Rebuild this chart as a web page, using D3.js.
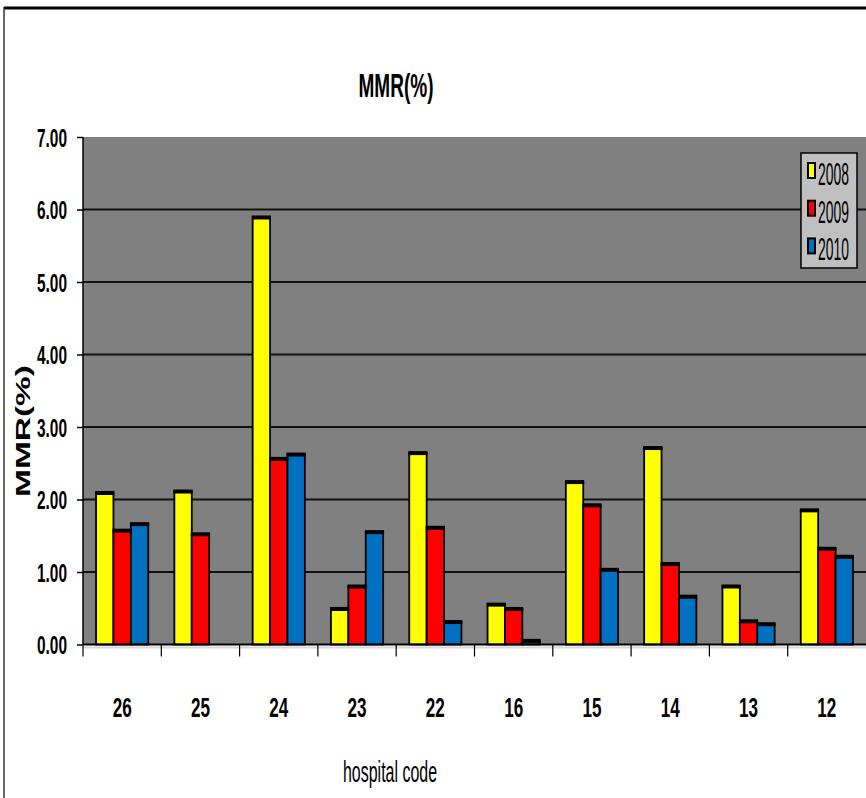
<!DOCTYPE html>
<html>
<head>
<meta charset="utf-8">
<script src="https://cdn.jsdelivr.net/npm/d3@7"></script>
<style>
  html, body { margin: 0; padding: 0; background: #fff; }
  svg { display: block; }
  text { font-family: "Liberation Sans", Arial, sans-serif; fill: #000; }
</style>
</head>
<body>
<svg id="chart" width="866" height="798"></svg>
<script>
// Hospital codes along the x axis
const categories = ["26", "25", "24", "23", "22", "16", "15", "14", "13", "12"];
// Series names (years) and MMR values in percent
const seriesNames = ["2008", "2009", "2010"];
const values2008 = [2.09, 2.11, 5.89, 0.49, 2.64, 0.55, 2.24, 2.71, 0.80, 1.85];
const values2009 = [1.57, 1.52, 2.56, 0.80, 1.61, 0.49, 1.92, 1.11, 0.32, 1.32];
const values2010 = [1.66, null, 2.62, 1.55, 0.31, 0.05, 1.03, 0.66, 0.28, 1.21];
const yTicks = [0, 1, 2, 3, 4, 5, 6, 7];
const colors = ["#FFFF00", "#FF0000", "#0070C0"];

const seriesValues = [values2008, values2009, values2010];

const svg = d3.select("#chart");

// Outer chart frame
svg.append("line").attr("x1", 4).attr("x2", 866).attr("y1", 8).attr("y2", 8)
  .attr("stroke", "#000").attr("stroke-width", 3);
svg.append("line").attr("x1", 4).attr("x2", 4).attr("y1", 7).attr("y2", 798)
  .attr("stroke", "#333").attr("stroke-width", 1.5);

const plot = { left: 83, right: 866, top: 137, bottom: 644.5 };

const x0 = d3.scaleBand().domain(categories).range([plot.left, plot.right])
  .paddingInner(0).paddingOuter(0);
const x1 = d3.scaleBand().domain(seriesNames).range([0, x0.bandwidth()])
  .paddingInner(0).paddingOuter(0.75);
const y = d3.scaleLinear().domain([0, 7]).range([plot.bottom, plot.top]);

// Plot area background
svg.append("rect")
  .attr("x", plot.left).attr("y", plot.top)
  .attr("width", plot.right - plot.left).attr("height", plot.bottom - plot.top)
  .attr("fill", "#808080");

// Horizontal gridlines
svg.append("g").selectAll("line")
  .data(yTicks.filter(t => t > 0 && t < 7))
  .join("line")
  .attr("x1", plot.left).attr("x2", plot.right)
  .attr("y1", d => y(d)).attr("y2", d => y(d))
  .attr("stroke", "#111").attr("stroke-width", 2);

// Bars
const rows = categories.map((c, i) => ({
  cat: c,
  bars: seriesNames.map((s, j) => ({ s, j, v: seriesValues[j][i] })).filter(b => b.v != null)
}));

const groups = svg.append("g").selectAll("g")
  .data(rows).join("g")
  .attr("transform", d => `translate(${x0(d.cat)},0)`);

groups.selectAll("rect.bar")
  .data(d => d.bars).join("rect")
  .attr("class", "bar")
  .attr("x", d => x1(d.s))
  .attr("y", d => y(d.v))
  .attr("width", x1.bandwidth())
  .attr("height", d => y(0) - y(d.v))
  .attr("fill", d => colors[d.j])
  .attr("stroke", "#000").attr("stroke-width", 1.8);

// Dark cap along the top edge of each bar
groups.selectAll("rect.cap")
  .data(d => d.bars).join("rect")
  .attr("class", "cap")
  .attr("x", d => x1(d.s) - 0.9)
  .attr("y", d => y(d.v) - 2)
  .attr("width", x1.bandwidth() + 1.8)
  .attr("height", d => Math.min(4, y(0) - y(d.v) + 2))
  .attr("fill", "#000");

// Y axis
const yAxis = d3.axisLeft(y).tickValues(yTicks).tickSize(6).tickFormat(d3.format(".2f"));
const yg = svg.append("g").attr("transform", `translate(${plot.left},0)`).call(yAxis);
yg.select(".domain").attr("stroke", "#000").attr("stroke-width", 1.5).attr("d", `M0,${plot.top}V${plot.bottom}`);
yg.selectAll(".tick line").attr("stroke", "#000").attr("stroke-width", 1.5);
yg.selectAll(".tick text")
  .attr("x", -16).attr("dy", "0.36em")
  .attr("font-size", 26).attr("font-weight", "bold")
  .attr("textLength", 30).attr("lengthAdjust", "spacingAndGlyphs");

// X axis: ticks on category boundaries, labels centred in each band
svg.append("line")
  .attr("x1", plot.left).attr("x2", plot.right)
  .attr("y1", plot.bottom).attr("y2", plot.bottom)
  .attr("stroke", "#000").attr("stroke-width", 1.8);
svg.append("line")
  .attr("x1", plot.left).attr("x2", plot.right)
  .attr("y1", plot.bottom + 3).attr("y2", plot.bottom + 3)
  .attr("stroke", "#d8d8d8").attr("stroke-width", 2);
svg.append("g").selectAll("line")
  .data(categories)
  .join("line")
  .attr("x1", d => x0(d)).attr("x2", d => x0(d))
  .attr("y1", plot.bottom).attr("y2", plot.bottom + 12)
  .attr("stroke", "#000").attr("stroke-width", 1.2);

svg.append("g").selectAll("text")
  .data(categories)
  .join("text")
  .attr("x", d => x0(d) + x0.bandwidth() / 2)
  .attr("y", 717)
  .attr("text-anchor", "middle")
  .attr("font-size", 27).attr("font-weight", "bold")
  .attr("textLength", 19).attr("lengthAdjust", "spacingAndGlyphs")
  .text(d => d);

// Titles
svg.append("text")
  .attr("x", 396).attr("y", 97)
  .attr("text-anchor", "middle")
  .attr("font-size", 33).attr("font-weight", "bold")
  .attr("textLength", 75).attr("lengthAdjust", "spacingAndGlyphs")
  .text("MMR(%)");

svg.append("text")
  .attr("x", 390).attr("y", 782)
  .attr("text-anchor", "middle")
  .attr("font-size", 30)
  .attr("textLength", 94).attr("lengthAdjust", "spacingAndGlyphs")
  .text("hospital code");

svg.append("text")
  .attr("transform", "translate(30,431) scale(0.6,1) rotate(-90)")
  .attr("text-anchor", "middle")
  .attr("font-size", 33).attr("font-weight", "bold")
  .attr("textLength", 132).attr("lengthAdjust", "spacingAndGlyphs")
  .text("MMR(%)");

// Legend
const legend = svg.append("g");
legend.append("rect")
  .attr("x", 801).attr("y", 153).attr("width", 56).attr("height", 115)
  .attr("fill", "#c0c0c0").attr("stroke", "#000").attr("stroke-width", 1.5);
const items = legend.selectAll("g.item")
  .data(seriesNames).join("g")
  .attr("class", "item")
  .attr("transform", (d, i) => `translate(0,${i * 37.7})`);
items.append("rect")
  .attr("x", 808).attr("y", 163).attr("width", 7).attr("height", 15)
  .attr("fill", (d, i) => colors[i]).attr("stroke", "#000").attr("stroke-width", 2);
// Narrow year labels: horizontally condensed glyphs
items.append("text")
  .attr("transform", "translate(818,185) scale(0.45,1)")
  .attr("font-size", 31)
  .text(d => d);
</script>
</body>
</html>
